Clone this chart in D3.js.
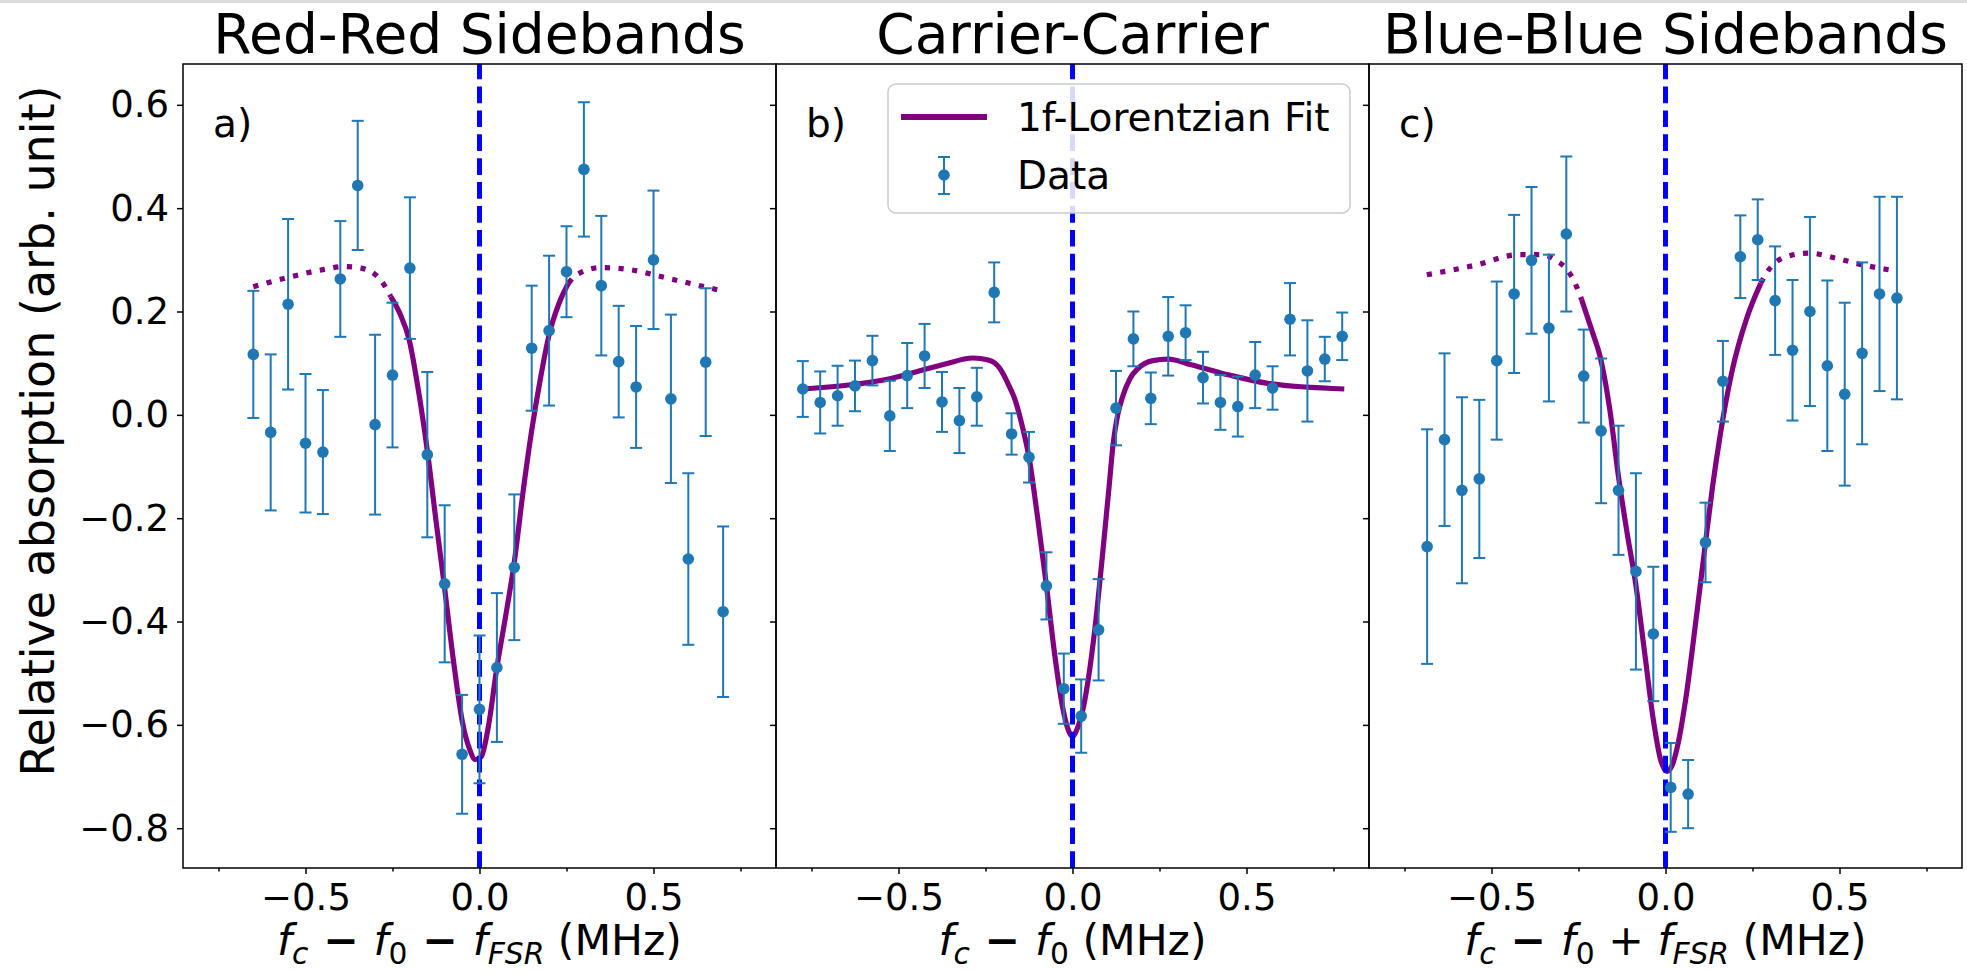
<!DOCTYPE html>
<html><head><meta charset="utf-8">
<script src="https://cdn.jsdelivr.net/npm/d3@7"></script>
<style>
body{margin:0;background:#fff}
svg{display:block}
text{font-family:"DejaVu Sans",sans-serif;fill:#000}
</style>
</head><body>
<svg id="chart" width="1967" height="973"></svg>
<script>
// ---------------- DATA ----------------
const panelTitles = ["Red-Red Sidebands", "Carrier-Carrier", "Blue-Blue Sidebands"];
const panelLetters = ["a)", "b)", "c)"];
const yTicks = [-0.8, -0.6, -0.4, -0.2, 0.0, 0.2, 0.4, 0.6];
const xMajorTicks = [-0.5, 0.0, 0.5];
const xMinorTicks = [-0.75, -0.25, 0.25, 0.75];
const legendLabels = ["1f-Lorentzian Fit", "Data"];

// Panel a (Red-Red sidebands)
const xA = [-0.65,-0.60,-0.55,-0.50,-0.45,-0.40,-0.35,-0.30,-0.25,-0.20,-0.15,-0.10,-0.05,0.00,0.05,0.10,0.15,0.20,0.25,0.30,0.35,0.40,0.45,0.50,0.55,0.60,0.65,0.70];
const yA = [0.117,-0.034,0.214,-0.055,-0.072,0.263,0.444,-0.019,0.077,0.284,-0.077,-0.327,-0.657,-0.570,-0.489,-0.295,0.129,0.163,0.277,0.475,0.250,0.103,0.054,0.300,0.031,-0.279,0.102,-0.381];
const eA = [0.123,0.151,0.165,0.134,0.120,0.112,0.125,0.174,0.140,0.137,0.160,0.152,0.115,0.143,0.144,0.141,0.121,0.145,0.088,0.130,0.135,0.108,0.118,0.134,0.163,0.166,0.143,0.165];
const fitAx = [-0.65,-0.55,-0.45,-0.39,-0.34,-0.284,-0.255,-0.228,-0.202,-0.175,-0.149,-0.125,-0.102,-0.075,-0.049,-0.028,-0.012,0.005,0.025,0.05,0.075,0.10,0.125,0.15,0.175,0.20,0.228,0.256,0.279,0.35,0.432,0.537,0.69];
const fitAy = [0.248,0.266,0.281,0.287,0.284,0.261,0.229,0.195,0.145,0.045,-0.074,-0.205,-0.326,-0.475,-0.595,-0.648,-0.667,-0.662,-0.605,-0.489,-0.390,-0.285,-0.150,-0.030,0.070,0.155,0.215,0.255,0.271,0.285,0.281,0.265,0.241];
const solidA = [-0.255, 0.256];

// Panel b (Carrier-Carrier)
const xB = [-0.775,-0.725,-0.675,-0.625,-0.575,-0.525,-0.475,-0.425,-0.375,-0.325,-0.275,-0.225,-0.175,-0.125,-0.075,-0.025,0.025,0.075,0.125,0.175,0.225,0.275,0.325,0.375,0.425,0.475,0.525,0.575,0.625,0.675,0.725,0.775];
const yB = [0.050,0.024,0.037,0.056,0.105,-0.002,0.076,0.114,0.025,-0.011,0.035,0.237,-0.037,-0.082,-0.331,-0.530,-0.583,-0.416,0.013,0.147,0.032,0.152,0.159,0.072,0.024,0.016,0.077,0.052,0.185,0.085,0.108,0.152];
const eB = [0.054,0.060,0.058,0.049,0.048,0.068,0.063,0.062,0.058,0.063,0.056,0.058,0.040,0.049,0.065,0.068,0.071,0.098,0.072,0.053,0.050,0.076,0.053,0.050,0.053,0.058,0.064,0.042,0.070,0.098,0.043,0.046];
const fitBx = [-0.775,-0.539,-0.374,-0.286,-0.242,-0.209,-0.185,-0.165,-0.145,-0.125,-0.10,-0.075,-0.05,-0.03,-0.012,0.0,0.012,0.03,0.05,0.07,0.09,0.105,0.117,0.13,0.143,0.165,0.187,0.231,0.275,0.341,0.451,0.561,0.781];
const fitBy = [0.050,0.068,0.097,0.110,0.106,0.090,0.060,0.029,-0.020,-0.082,-0.200,-0.330,-0.470,-0.560,-0.610,-0.623,-0.610,-0.570,-0.490,-0.380,-0.245,-0.140,-0.055,0.000,0.033,0.070,0.089,0.105,0.108,0.097,0.077,0.061,0.050];
const solidB = [-1, 1];

// Panel c (Blue-Blue sidebands)
const xC = [-0.685,-0.635,-0.585,-0.535,-0.485,-0.435,-0.385,-0.335,-0.285,-0.235,-0.185,-0.135,-0.085,-0.035,0.015,0.065,0.115,0.165,0.215,0.265,0.315,0.365,0.415,0.465,0.515,0.565,0.615,0.665];
const yC = [-0.255,-0.048,-0.146,-0.124,0.105,0.234,0.299,0.168,0.350,0.075,-0.031,-0.146,-0.303,-0.424,-0.721,-0.734,-0.247,0.065,0.306,0.339,0.221,0.125,0.200,0.095,0.040,0.119,0.234,0.226];
const eC = [0.227,0.167,0.180,0.153,0.153,0.153,0.142,0.142,0.150,0.090,0.140,0.125,0.190,0.130,0.086,0.066,0.077,0.078,0.080,0.078,0.105,0.136,0.183,0.165,0.177,0.176,0.188,0.196];
const fitCx = [-0.686,-0.544,-0.422,-0.355,-0.31,-0.283,-0.26,-0.241,-0.21,-0.188,-0.16,-0.135,-0.11,-0.085,-0.06,-0.035,-0.015,0.004,0.018,0.035,0.057,0.09,0.115,0.135,0.157,0.19,0.235,0.274,0.29,0.346,0.413,0.491,0.568,0.657];
const fitCy = [0.271,0.290,0.310,0.310,0.297,0.281,0.255,0.223,0.160,0.113,0.010,-0.120,-0.230,-0.330,-0.460,-0.590,-0.665,-0.690,-0.680,-0.640,-0.555,-0.384,-0.247,-0.140,-0.040,0.081,0.190,0.255,0.274,0.306,0.313,0.303,0.290,0.279];
const solidC = [-0.241, 0.274];

// x-axis labels (mathtext-like parts: i = italic, is = italic subscript, s = subscript, op = operator, n = normal)
const xLabelParts = [
  [["f","i"],["c","is"],[" \u2212 ","op"],["f","i"],["0","s"],[" \u2212 ","op"],["f","i"],["FSR","is"],[" (MHz)","n"]],
  [["f","i"],["c","is"],[" \u2212 ","op"],["f","i"],["0","s"],[" (MHz)","n"]],
  [["f","i"],["c","is"],[" \u2212 ","op"],["f","i"],["0","s"],[" + ","n"],["f","i"],["FSR","is"],[" (MHz)","n"]]
];
const yLabel = "Relative absorption (arb. unit)";

// ---------------- LAYOUT ----------------
const W = 1967, H = 973;
const plotTop = 64, plotBottom = 868;
const edges = [183, 776, 1369, 1962];
const xDomain = [-0.852, 0.852];
const yDomain = [-0.877, 0.679];
const C_DATA = "#1f77b4", C_FIT = "#800080", C_VLINE = "#0000ff";

const svg = d3.select("#chart");
svg.append("rect").attr("x",0).attr("y",0).attr("width",W).attr("height",3).attr("fill","#dcdcdc");

const y = d3.scaleLinear().domain(yDomain).range([plotBottom, plotTop]);

const panels = [
  {xs:xA, ys:yA, es:eA, fx:fitAx, fy:fitAy, solid:solidA},
  {xs:xB, ys:yB, es:eB, fx:fitBx, fy:fitBy, solid:solidB},
  {xs:xC, ys:yC, es:eC, fx:fitCx, fy:fitCy, solid:solidC}
];

const fmt = d3.format(".1f");

panels.forEach((p, i) => {
  const x = d3.scaleLinear().domain(xDomain).range([edges[i], edges[i+1]]);
  const g = svg.append("g");
  const fit = p.fx.map((v, k) => [v, p.fy[k]]);
  const line = d3.line().x(d => x(d[0])).y(d => y(d[1])).curve(d3.curveMonotoneX);
  const left = fit.filter(d => d[0] <= p.solid[0]);
  const mid = fit.filter(d => d[0] >= p.solid[0] && d[0] <= p.solid[1]);
  const right = fit.filter(d => d[0] >= p.solid[1]);
  [left, right].forEach(seg => {
    if (seg.length > 1) g.append("path").attr("d", line(seg)).attr("fill","none")
      .attr("stroke", C_FIT).attr("stroke-width", 5.2).attr("stroke-dasharray","5.2,8.5");
  });
  g.append("path").attr("d", line(mid)).attr("fill","none")
    .attr("stroke", C_FIT).attr("stroke-width", 5.2).attr("stroke-linejoin","round");

  // vertical dashed line at 0
  g.append("line").attr("x1", x(0)).attr("x2", x(0)).attr("y1", plotBottom).attr("y2", plotTop)
    .attr("stroke", C_VLINE).attr("stroke-width", 5).attr("stroke-dasharray","16.7,7.2");

  // error bars
  const pts = p.xs.map((v, k) => ({x:v, y:p.ys[k], e:p.es[k]}));
  const eb = g.append("g").selectAll("g").data(pts).join("g");
  eb.append("line").attr("x1", d => x(d.x)).attr("x2", d => x(d.x))
    .attr("y1", d => y(d.y - d.e)).attr("y2", d => y(d.y + d.e))
    .attr("stroke", C_DATA).attr("stroke-width", 2);
  [1, -1].forEach(s => {
    eb.append("line").attr("x1", d => x(d.x) - 6).attr("x2", d => x(d.x) + 6)
      .attr("y1", d => y(d.y + s*d.e)).attr("y2", d => y(d.y + s*d.e))
      .attr("stroke", C_DATA).attr("stroke-width", 2);
  });
  eb.append("circle").attr("cx", d => x(d.x)).attr("cy", d => y(d.y)).attr("r", 5.8).attr("fill", C_DATA);

  // axes
  const yAxis = d3.axisLeft(y).tickValues(yTicks).tickSize(6).tickPadding(8)
    .tickFormat(i === 0 ? d => fmt(d) : () => "");
  const ya = g.append("g").attr("transform", `translate(${edges[i]},0)`).call(yAxis);
  const xAxis = d3.axisBottom(x).tickValues(xMajorTicks).tickSize(6).tickPadding(10).tickFormat(d => fmt(d));
  const xa = g.append("g").attr("transform", `translate(0,${plotBottom})`).call(xAxis);
  const xAxisMinor = d3.axisBottom(x).tickValues(xMinorTicks).tickSize(3.5).tickFormat(() => "");
  const xm = g.append("g").attr("transform", `translate(0,${plotBottom})`).call(xAxisMinor);
  [ya, xa, xm].forEach(a => {
    a.select(".domain").remove();
    a.selectAll(".tick line").attr("stroke","#000").attr("stroke-width",1.5);
    a.selectAll(".tick text").attr("font-family","DejaVu Sans").attr("font-size", 37).attr("fill","#000");
  });

  // frame
  g.append("rect").attr("x", edges[i]).attr("y", plotTop).attr("width", edges[i+1]-edges[i])
    .attr("height", plotBottom - plotTop).attr("fill","none").attr("stroke","#000").attr("stroke-width",1.5);

  // title
  const cx = (edges[i] + edges[i+1]) / 2;
  svg.append("text").attr("x", cx).attr("y", 53).attr("text-anchor","middle")
    .attr("font-size", 55).text(panelTitles[i]);

  // panel letter
  svg.append("text").attr("x", edges[i] + 30).attr("y", 137).attr("font-size", 39).text(panelLetters[i]);

  // x label (built as start-anchored text, then centred on the panel using its measured width)
  const fs = 42.5;
  const t = svg.append("text").attr("x", 0).attr("y", 955).attr("font-size", fs);
  let shifted = false;
  xLabelParts[i].forEach(([s, kind]) => {
    const sub = kind === "s" || kind === "is";
    const ts = t.append("tspan").text(s);
    if (kind === "i" || kind === "is") ts.attr("font-style","italic");
    if (sub) ts.attr("font-size", fs*0.7);
    if (sub && !shifted) { ts.attr("dy", fs*0.22); shifted = true; }
    else if (!sub && shifted) { ts.attr("dy", -fs*0.22); shifted = false; }
    if (kind === "op") ts.attr("font-weight","bold");
  });
  const bb = t.node().getBBox();
  t.attr("x", cx - bb.width / 2);
});

// y label
svg.append("text").attr("transform","translate(54,431) rotate(-90)").attr("text-anchor","middle")
  .attr("font-size", 46).text(yLabel);

// legend (in panel b)
const lg = svg.append("g");
lg.append("rect").attr("x", 888).attr("y", 84).attr("width", 462).attr("height", 129).attr("rx", 8)
  .attr("fill","#fff").attr("fill-opacity",0.85).attr("stroke","#cccccc").attr("stroke-width",1.5);
lg.append("line").attr("x1", 901).attr("x2", 987).attr("y1", 117).attr("y2", 117)
  .attr("stroke", C_FIT).attr("stroke-width", 6);
lg.append("text").attr("x", 1017).attr("y", 131).attr("font-size", 39).text(legendLabels[0]);
lg.append("line").attr("x1", 944).attr("x2", 944).attr("y1", 157).attr("y2", 194).attr("stroke", C_DATA).attr("stroke-width", 2);
[157, 194].forEach(v => lg.append("line").attr("x1", 938).attr("x2", 950).attr("y1", v).attr("y2", v).attr("stroke", C_DATA).attr("stroke-width", 2));
lg.append("circle").attr("cx", 944).attr("cy", 175).attr("r", 5.8).attr("fill", C_DATA);
lg.append("text").attr("x", 1017).attr("y", 189).attr("font-size", 39).text(legendLabels[1]);
</script>
</body></html>
